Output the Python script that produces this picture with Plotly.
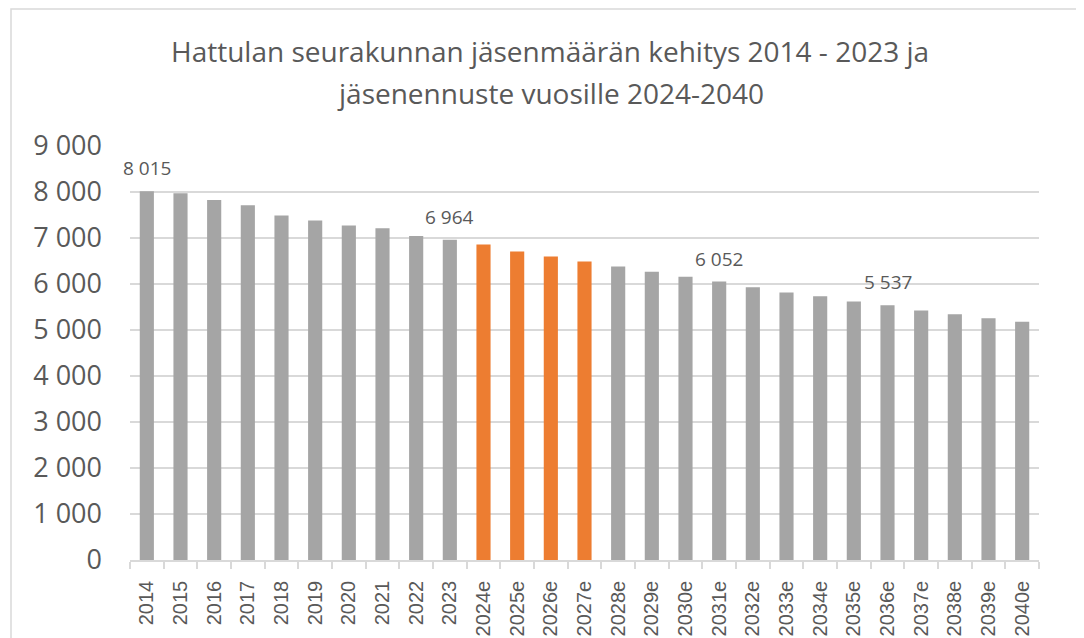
import plotly.graph_objects as go

years = ["2014", "2015", "2016", "2017", "2018", "2019", "2020", "2021", "2022", "2023",
         "2024e", "2025e", "2026e", "2027e", "2028e", "2029e", "2030e", "2031e", "2032e",
         "2033e", "2034e", "2035e", "2036e", "2037e", "2038e", "2039e", "2040e"]
members = [8015, 7973, 7828, 7712, 7489, 7380, 7271, 7213, 7046, 6964,
           6858, 6706, 6597, 6489, 6380, 6264, 6155, 6052, 5931,
           5816, 5735, 5620, 5537, 5425, 5344, 5257, 5177]
highlighted = ["2024e", "2025e", "2026e", "2027e"]
labelled = ["2014", "2023", "2031e", "2036e"]
y_ticks = [0, 1000, 2000, 3000, 4000, 5000, 6000, 7000, 8000, 9000]
title_lines = ["Hattulan seurakunnan jäsenmäärän kehitys 2014 - 2023 ja",
               "jäsenennuste vuosille 2024-2040"]

GRAY = "#a5a5a5"
ORANGE = "#ed7d31"
TEXT = "#595959"
GRID = "#d9d9d9"

OFF = 8                      # default page body margin
WIN_W, WIN_H = 1084, 638
W, H = WIN_W - OFF, WIN_H - OFF
# plot area in window pixels: x 130..1039, y 146..560
L = 130 - OFF
R = WIN_W - 1039
T = 146 - OFF
B = H - (560 - OFF)
pw, ph = W - L - R, H - T - B

def px(xw):   # window x -> paper x
    return (xw - OFF - L) / pw

def py(yw):   # window y -> paper y
    return (H - B - (yw - OFF)) / ph

colors = [ORANGE if y in highlighted else GRAY for y in years]
idx = list(range(len(years)))

fig = go.Figure(go.Bar(x=idx, y=members, marker=dict(color=colors, line=dict(width=0)),
                       hovertext=years, hoverinfo="text+y"))

def fmt(v):
    return f"{v:,}".replace(",", " ")

for i, (yr, v) in enumerate(zip(years, members)):
    if yr in labelled:
        fig.add_annotation(x=i, y=v, text=fmt(v), showarrow=False, yanchor="bottom",
                           yshift=8, font=dict(family="Open Sans", size=19, color=TEXT))

for line, cy in zip(title_lines, [51, 93]):
    fig.add_annotation(xref="paper", yref="paper", x=px(550), y=py(cy),
                       xanchor="center", yanchor="middle", text=line, showarrow=False,
                       font=dict(family="Open Sans", size=28, color=TEXT))

fig.add_shape(type="rect", xref="paper", yref="paper",
              x0=px(11), x1=px(WIN_W + 20), y0=py(WIN_H + 20), y1=py(9),
              line=dict(color=GRID, width=1.5), fillcolor="rgba(0,0,0,0)", layer="below")

fig.update_layout(
    width=W, height=H,
    margin=dict(l=L, r=R, t=T, b=B, pad=0, autoexpand=False),
    paper_bgcolor="white", plot_bgcolor="white",
    separators=", ",
    bargap=0.58,
    showlegend=False,
    xaxis=dict(tickmode="array", tickvals=idx, ticktext=years, range=[-0.5, len(years) - 0.5],
               tickangle=-90, showline=True, linecolor=GRID, linewidth=1.5, automargin=False,
               ticks="", showgrid=False, zeroline=False, ticklabelstandoff=11,
               tickfont=dict(family="Liberation Sans", size=20, color=TEXT)),
    yaxis=dict(range=[0, 9000], tickvals=y_ticks, tickformat=",d", showgrid=True,
               gridcolor=GRID, gridwidth=1.5, zeroline=False, showline=False, automargin=False,
               ticks="", ticklabelstandoff=27,
               tickfont=dict(family="Open Sans", size=27, color=TEXT)),
)

fig.update_xaxes(minor=dict(tickmode="array", tickvals=[i - 0.5 for i in range(len(years) + 1)],
                            ticks="outside", ticklen=7, tickcolor=GRID, tickwidth=1.5,
                            showgrid=False))

fig.write_html("out.html")
